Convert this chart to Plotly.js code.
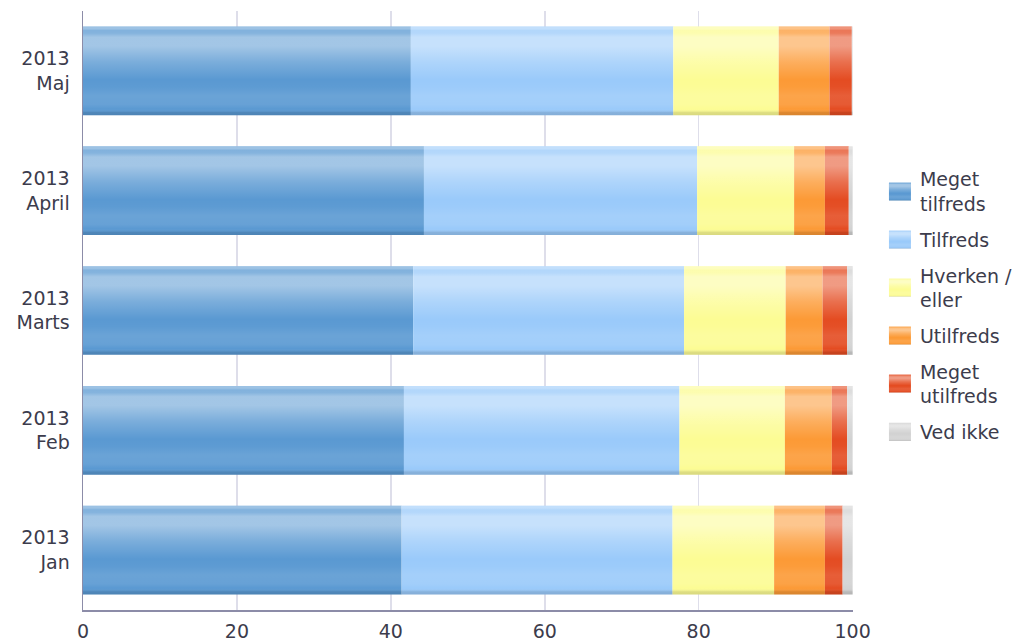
<!DOCTYPE html>
<html>
<head>
<meta charset="utf-8">
<script src="https://cdn.plot.ly/plotly-3.0.1.min.js"></script>
<style>
  html, body { margin: 0; padding: 0; background: #ffffff; }
  #chart { width: 1026px; height: 643px; }
</style>
</head>
<body>
<div id="chart"></div>
<script>
// Survey months, bottom to top
const categories = ['2013<br>Jan', '2013<br>Feb', '2013<br>Marts', '2013<br>April', '2013<br>Maj'];

// Share of answers (%) per month
const megetTilfreds  = [41.4, 41.7, 42.9, 44.3, 42.6];
const tilfreds       = [35.2, 35.8, 35.2, 35.5, 34.1];
const hverkenEller   = [13.2, 13.7, 13.2, 12.6, 13.7];
const utilfreds      = [6.6, 6.1, 4.8, 4.0, 6.6];
const megetUtilfreds = [2.3, 2.0, 3.2, 3.1, 2.9];
const vedIkke        = [1.3, 0.7, 0.7, 0.5, 0.1];

const seriesNames = ['Meget<br>tilfreds', 'Tilfreds', 'Hverken /<br>eller', 'Utilfreds', 'Meget<br>utilfreds', 'Ved ikke'];
const seriesValues = [megetTilfreds, tilfreds, hverkenEller, utilfreds, megetUtilfreds, vedIkke];
const seriesColors = ['#5a99d2', '#9acafa', '#fcfc94', '#fc9a36', '#e44c22', '#d2d2d2'];

const BAR_W = 0.74;
const traces = [];

// Stacked segments: each series starts where the previous ones end
let running = categories.map(() => 0);
seriesValues.forEach((vals, i) => {
  const base = running.slice();
  traces.push({
    type: 'bar',
    orientation: 'h',
    name: seriesNames[i],
    y: categories,
    x: vals,
    base: base,
    width: BAR_W,
    marker: { color: seriesColors[i], line: { width: 0 } },
    legendgroup: 'g' + i,
    hoverinfo: 'name+x'
  });
  running = running.map((r, k) => r + vals[k]);
});
const totals = running;

// One full-length bar per month on top, later filled with a glossy gradient
traces.push({
  type: 'bar',
  orientation: 'h',
  y: categories,
  x: totals,
  base: categories.map(() => 0),
  width: BAR_W,
  marker: { color: '#ffffff', line: { width: 0 } },
  showlegend: false,
  hoverinfo: 'skip'
});

// Vertical shading profile: [offset from top, signed strength] (+ white, - black)
const glossStops = [
  [0.00, 0.40], [0.025, 0.40], [0.045, 0.24], [0.075, 0.26], [0.12, 0.44],
  [0.22, 0.44], [0.40, 0.20], [0.60, 0.00], [0.68, 0.02], [0.78, 0.10],
  [0.88, 0.08], [0.93, 0.00], [0.97, -0.12], [1.00, -0.14]
];

const textColor = '#3c3c4c';
const layout = {
  width: 1026,
  height: 643,
  paper_bgcolor: '#ffffff',
  plot_bgcolor: '#ffffff',
  margin: { l: 83, r: 173, t: 11, b: 33, autoexpand: false },
  barmode: 'overlay',
  font: { family: 'DejaVu Sans, sans-serif', size: 19, color: textColor },
  xaxis: {
    range: [0, 100.05],
    tickvals: [0, 20, 40, 60, 80, 100],
    ticktext: ['0', '20', '40', '60', '80', '100'],
    showgrid: true,
    gridcolor: '#dedeea',
    gridwidth: 1.5,
    zeroline: false,
    showline: true,
    linecolor: '#8c8ca8',
    linewidth: 1.5,
    ticks: '',
    ticklabelstandoff: 4,
    tickfont: { size: 19, color: textColor },
    fixedrange: true
  },
  yaxis: {
    type: 'category',
    categoryorder: 'array',
    categoryarray: categories,
    range: [-0.5, 4.5],
    showgrid: false,
    zeroline: false,
    showline: true,
    linecolor: '#8c8ca8',
    linewidth: 1.5,
    ticks: '',
    ticklabelstandoff: 8,
    tickfont: { size: 19, color: textColor },
    fixedrange: true
  },
  legend: {
    x: 1.035,
    xanchor: 'left',
    y: 0.508,
    yanchor: 'middle',
    traceorder: 'grouped',
    tracegroupgap: 8,
    valign: 'middle',
    font: { size: 19, color: textColor },
    bgcolor: 'rgba(0,0,0,0)'
  },
  showlegend: true
};

const SVGNS = 'http://www.w3.org/2000/svg';
function addGloss(gd) {
  const svg = gd.querySelector('svg.main-svg');
  let defs = svg.querySelector('defs');
  if (!defs) { defs = document.createElementNS(SVGNS, 'defs'); svg.insertBefore(defs, svg.firstChild); }
  const grad = document.createElementNS(SVGNS, 'linearGradient');
  grad.setAttribute('id', 'barGloss');
  grad.setAttribute('x1', '0'); grad.setAttribute('y1', '0');
  grad.setAttribute('x2', '0'); grad.setAttribute('y2', '1');
  glossStops.forEach(([off, s]) => {
    const st = document.createElementNS(SVGNS, 'stop');
    st.setAttribute('offset', off);
    st.setAttribute('stop-color', s >= 0 ? '#ffffff' : '#000000');
    st.setAttribute('stop-opacity', Math.abs(s));
    grad.appendChild(st);
  });
  defs.appendChild(grad);

  // gradient on the top (full-length) bars
  const barTraces = gd.querySelectorAll('g.barlayer g.trace');
  const glossTrace = barTraces[barTraces.length - 1];
  glossTrace.querySelectorAll('path').forEach(p => {
    p.style.fill = 'url(#barGloss)';
    p.style.fillOpacity = 1;
  });

  // larger legend swatches with the same gloss
  gd.querySelectorAll('g.legend g.traces').forEach(item => {
    const p = item.querySelector('g.legendpoints path');
    if (!p) return;
    p.setAttribute('d', 'M11,9H-11V-9H11Z');
    const g = p.cloneNode(false);
    g.style.fill = 'url(#barGloss)';
    g.style.fillOpacity = 1;
    g.style.stroke = 'none';
    p.parentNode.appendChild(g);
  });
}

Plotly.newPlot('chart', traces, layout, { displayModeBar: false, staticPlot: true })
  .then(addGloss);
</script>
</body>
</html>
